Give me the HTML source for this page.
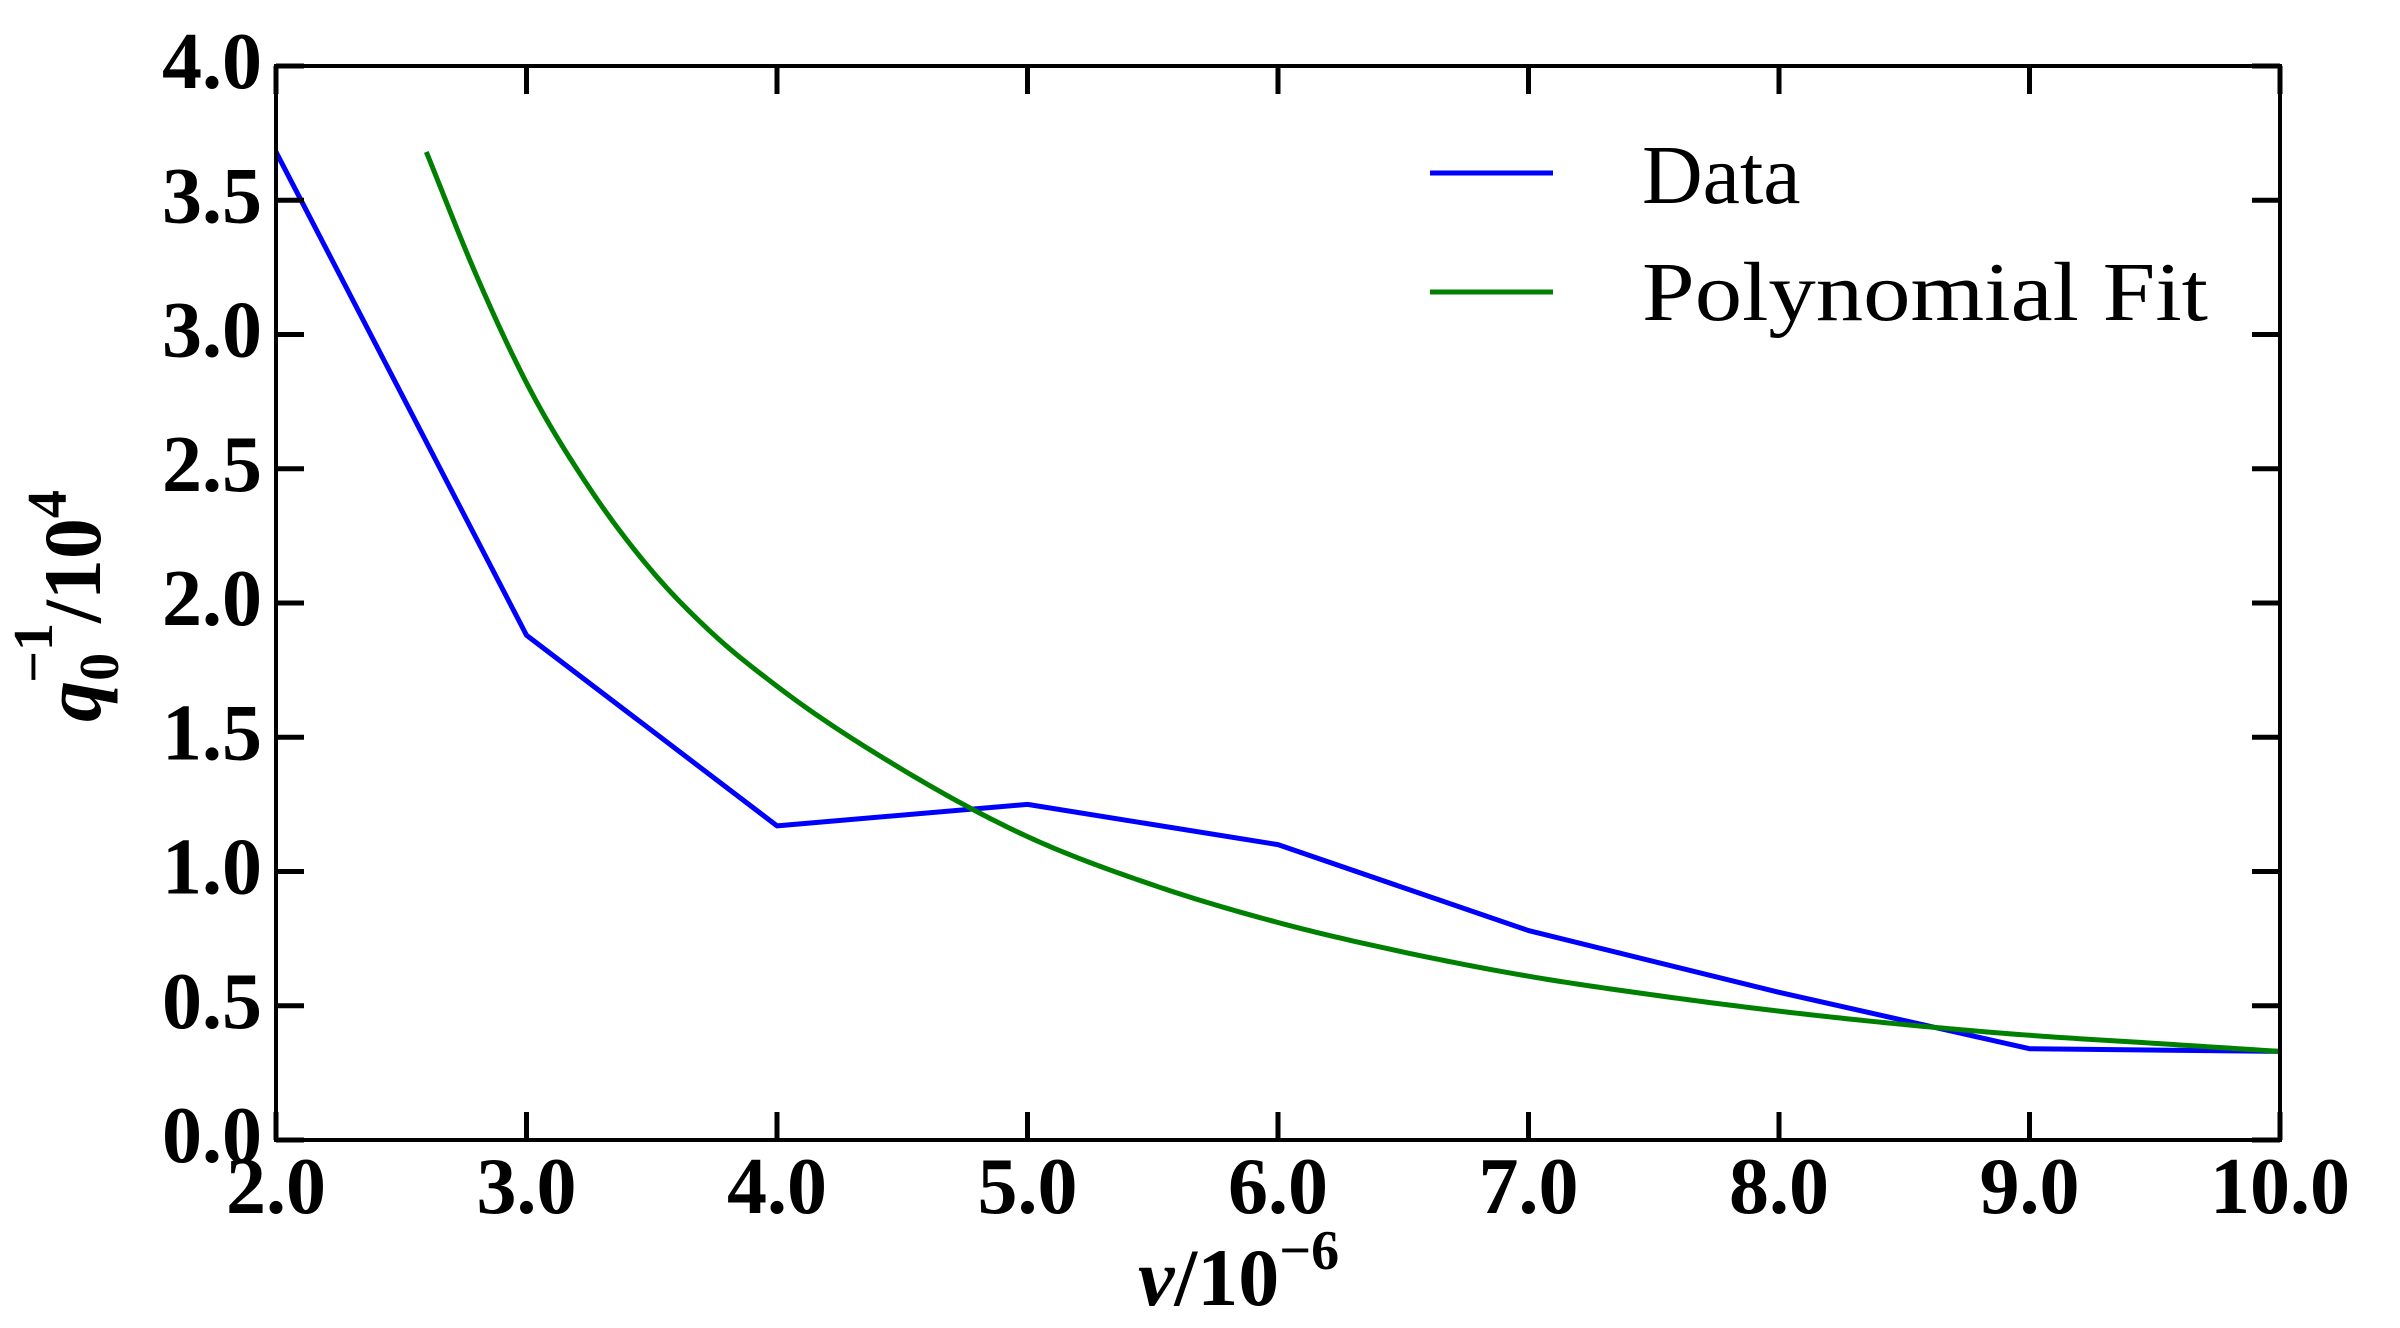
<!DOCTYPE html>
<html><head><meta charset="utf-8"><style>
html,body{margin:0;padding:0;background:#fff;}
svg{display:block;}
text{font-family:"Liberation Serif","DejaVu Serif",serif;fill:#000;}
.tick{font-weight:bold;font-size:80px;}
</style></head><body>
<svg id="chart" width="2400" height="1328" viewBox="0 0 2400 1328" xmlns="http://www.w3.org/2000/svg">
<g id="series"></g>
<g id="axes"></g>
<rect x="276" y="66" width="2004" height="1074" fill="none" stroke="#000" stroke-width="4"/>
<text transform="translate(100,606) rotate(-90)" text-anchor="middle" font-size="82" font-weight="bold"><tspan font-style="italic">q</tspan><tspan font-size="56" dy="18">0</tspan><tspan font-size="56" dy="-66" dx="-30">−1</tspan><tspan dy="48">/10</tspan><tspan font-size="56" dy="-34">4</tspan></text>
<text x="1138" y="1305" font-size="82" font-weight="bold"><tspan font-style="italic">ν</tspan><tspan>/10</tspan><tspan font-size="56" dy="-36">−6</tspan></text>
<g>
<line x1="1430" y1="173" x2="1553" y2="173" stroke="#0000ff" stroke-width="5"/>
<text x="1642" y="203" font-size="84">Data</text>
<line x1="1430" y1="292" x2="1553" y2="292" stroke="#008000" stroke-width="5"/>
<text x="1642" y="320" font-size="84" textLength="566" lengthAdjust="spacingAndGlyphs">Polynomial Fit</text>
</g>
</svg>
<script>
const dataX = [2,3,4,5,6,7,8,9,10];
const dataY = [3.68,1.88,1.17,1.25,1.10,0.78,0.55,0.34,0.33];
const fitX = [2.6,2.8,3.0,3.25,3.5,3.75,4.0,4.5,5.0,5.5,6.0,6.5,7.0,7.5,8.0,8.5,9.0,9.5,10.0];
const fitY = [3.68,3.22,2.82,2.43,2.12,1.88,1.69,1.38,1.13,0.95,0.81,0.70,0.61,0.54,0.48,0.43,0.39,0.36,0.33];
const xTicks = [2,3,4,5,6,7,8,9,10];
const xTickLabels = ["2.0","3.0","4.0","5.0","6.0","7.0","8.0","9.0","10.0"];
const yTicks = [0,0.5,1,1.5,2,2.5,3,3.5,4];
const yTickLabels = ["0.0","0.5","1.0","1.5","2.0","2.5","3.0","3.5","4.0"];

const L=276,R=2280,T=66,B=1140;
function sx(v){return L+(v-2)/8*(R-L);}
function sy(v){return B-v/4*(B-T);}
const NS="http://www.w3.org/2000/svg";
const series=document.getElementById('series');
const axes=document.getElementById('axes');
function poly(xs,ys,color,name){
  const p=document.createElementNS(NS,'polyline');
  p.setAttribute('points',xs.map((x,i)=>sx(x)+','+sy(ys[i])).join(' '));
  p.setAttribute('fill','none');p.setAttribute('stroke',color);p.setAttribute('stroke-width','5');
  p.setAttribute('stroke-linejoin','round');
  
  
  series.appendChild(p);
}
function smooth(xs,ys,color,name){
  const n=xs.length, m=[];
  for(let i=0;i<n;i++){
    if(i===0) m.push((ys[1]-ys[0])/(xs[1]-xs[0]));
    else if(i===n-1) m.push((ys[n-1]-ys[n-2])/(xs[n-1]-xs[n-2]));
    else{
      const h0=xs[i]-xs[i-1],h1=xs[i+1]-xs[i];
      const d0=(ys[i]-ys[i-1])/h0,d1=(ys[i+1]-ys[i])/h1;
      m.push((d0*h1+d1*h0)/(h0+h1));
    }
  }
  const pts=[];
  for(let i=0;i<n-1;i++){
    const h=xs[i+1]-xs[i];
    for(let k=0;k<20;k++){
      const t=k/20,t2=t*t,t3=t2*t;
      const y=(2*t3-3*t2+1)*ys[i]+(t3-2*t2+t)*h*m[i]+(-2*t3+3*t2)*ys[i+1]+(t3-t2)*h*m[i+1];
      pts.push(sx(xs[i]+t*h).toFixed(2)+','+sy(y).toFixed(2));
    }
  }
  pts.push(sx(xs[n-1])+','+sy(ys[n-1]));
  const p=document.createElementNS(NS,'polyline');
  p.setAttribute('points',pts.join(' '));
  p.setAttribute('fill','none');p.setAttribute('stroke',color);p.setAttribute('stroke-width','5');
  p.setAttribute('stroke-linejoin','round');
  
  
  series.appendChild(p);
}
poly(dataX,dataY,'#0000ff','data-line');
smooth(fitX,fitY,'#008000','polynomial-fit-line');
function ln(x1,y1,x2,y2){
  const l=document.createElementNS(NS,'line');
  l.setAttribute('x1',x1);l.setAttribute('y1',y1);l.setAttribute('x2',x2);l.setAttribute('y2',y2);
  l.setAttribute('stroke','#000');l.setAttribute('stroke-width','5');
  
  
  axes.appendChild(l);
}
xTicks.forEach((v,i)=>{
  const x=sx(v);
  ln(x,B,x,B-28);ln(x,T,x,T+28);
  const t=document.createElementNS(NS,'text');
  t.setAttribute('x',x);t.setAttribute('y',1213);t.setAttribute('text-anchor','middle');
  t.setAttribute('class','tick');
  
  
  t.textContent=xTickLabels[i];axes.appendChild(t);
});
yTicks.forEach((v,i)=>{
  const y=sy(v);
  ln(L,y,L+28,y);ln(R,y,R-28,y);
  const t=document.createElementNS(NS,'text');
  t.setAttribute('x',262);t.setAttribute('y',y+22);t.setAttribute('text-anchor','end');
  t.setAttribute('class','tick');
  
  
  t.textContent=yTickLabels[i];axes.appendChild(t);
});
</script>
</body></html>
